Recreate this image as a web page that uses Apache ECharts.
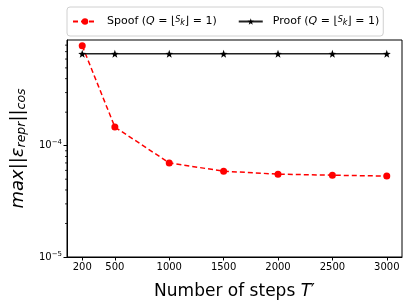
<!DOCTYPE html>
<html>
<head>
<meta charset="utf-8">
<script src="https://cdn.jsdelivr.net/npm/echarts@6/dist/echarts.min.js"></script>
<style>html,body{margin:0;padding:0;background:#fff;}#c{width:409px;height:308px;}</style>
</head>
<body>
<div id="c"></div>
<script>
const steps = [200, 500, 1000, 1500, 2000, 2500, 3000];
const spoofValues = [7.9e-4, 1.47e-4, 7.0e-5, 5.9e-5, 5.55e-5, 5.43e-5, 5.33e-5];
const proofValues = [6.68e-4, 6.68e-4, 6.68e-4, 6.68e-4, 6.68e-4, 6.68e-4, 6.68e-4];
const xTicks = [200, 500, 1000, 1500, 2000, 2500, 3000];
const yTicks = [1e-5, 1e-4];
const yMinorTicks = [2e-5, 3e-5, 4e-5, 5e-5, 6e-5, 7e-5, 8e-5, 9e-5, 2e-4, 3e-4, 4e-4, 5e-4, 6e-4, 7e-4, 8e-4];
const seriesNames = ['Spoof', 'Proof'];

const FONT = 'DejaVu Sans';
const STAR = 'path://M0,-10 L2.35,-3.24 L9.51,-3.09 L3.80,1.24 L5.88,8.09 L0,4 L-5.88,8.09 L-3.80,1.24 L-9.51,-3.09 L-2.35,-3.24 Z';
const xMin = 60, xMax = 3140;
const yMin = 1e-5, yMax = 8.9e-4;

const chart = echarts.init(document.getElementById('c'), null, {renderer: 'canvas'});
const LF = 11;
const legendRich = {
  t0: {fontFamily: FONT, fontSize: LF, color: '#000', padding: [0, 0, 0, 5]},
  t: {fontFamily: FONT, fontSize: LF, color: '#000'},
  it: {fontFamily: FONT, fontSize: LF, fontStyle: 'italic', color: '#000'},
  sup: {fontFamily: FONT, fontSize: 8, fontStyle: 'italic', color: '#000', verticalAlign: 'top'},
  sub: {fontFamily: FONT, fontSize: 8, fontStyle: 'italic', color: '#000', verticalAlign: 'bottom'}
};
chart.setOption({
  animation: false,
  backgroundColor: '#fff',
  grid: {left: 67, right: 7, top: 40, bottom: 51, show: true, borderColor: '#000', borderWidth: 1},
  legend: {
    left: 67, top: 7,
    padding: [9, 4, 9, 5],
    itemGap: 21,
    itemWidth: 24, itemHeight: 8,
    borderColor: '#d0d0d0', borderWidth: 1, borderRadius: 3,
    data: seriesNames,
    formatter: function (name) {
      return '{t0|' + name + ' (}{it|Q}{t| = ⌊}{sup|S}{sub|k}{t|⌋ = 1)}';
    },
    textStyle: {rich: legendRich, fontFamily: FONT, fontSize: LF, color: '#000'}
  },
  xAxis: {
    type: 'value', min: xMin, max: xMax,
    name: 'Number of steps {it|T}′',
    nameLocation: 'middle', nameGap: 26,
    nameTextStyle: {fontFamily: FONT, fontSize: 17, color: '#000',
      rich: {it: {fontFamily: FONT, fontSize: 17, fontStyle: 'italic', color: '#000'}}},
    axisLine: {lineStyle: {color: '#000', width: 1}},
    axisTick: {customValues: xTicks, length: 3.5, lineStyle: {color: '#000'}},
    axisLabel: {customValues: xTicks, fontFamily: FONT, fontSize: 10, color: '#000', margin: 5,
      formatter: function (v) { return String(v); }},
    splitLine: {show: false}
  },
  yAxis: {
    type: 'log', logBase: 10, min: yMin, max: yMax,
    name: '{i|max}{n|||}{i|ε}{s|repr}{n|||}{s|cos}',
    nameLocation: 'middle', nameGap: 38, nameRotate: 90,
    nameTextStyle: {fontFamily: FONT, fontSize: 18, color: '#000', rich: {
      i: {fontFamily: FONT, fontSize: 18, fontStyle: 'italic', color: '#000'},
      n: {fontFamily: FONT, fontSize: 18, color: '#000'},
      s: {fontFamily: FONT, fontSize: 12.5, fontStyle: 'italic', color: '#000', verticalAlign: 'bottom', padding: [6, 0, 0, 0]}
    }},
    axisLine: {show: true, lineStyle: {color: '#000', width: 1}},
    axisTick: {customValues: yTicks, length: 3.5, lineStyle: {color: '#000'}},
    axisLabel: {customValues: yTicks, margin: 5,
      formatter: function (v) { return '10{sup|−' + Math.round(-Math.log10(v)) + '}'; },
      fontFamily: FONT, fontSize: 10, color: '#000',
      rich: {sup: {fontFamily: FONT, fontSize: 7, color: '#000', verticalAlign: 'top', padding: [0, 0, 6, 0]}}},
    splitLine: {show: false}
  },
  series: [{
    name: seriesNames[0], type: 'line',
    data: steps.map((s, i) => [s, spoofValues[i]]),
    symbol: 'circle', symbolSize: 7,
    itemStyle: {color: '#ff0000'},
    lineStyle: {color: '#ff0000', width: 1.5, type: [5, 3]},
    z: 3
  }, {
    name: seriesNames[1], type: 'line',
    data: steps.map((s, i) => [s, proofValues[i]]),
    symbol: STAR, symbolSize: 8,
    itemStyle: {color: '#000'},
    lineStyle: {color: '#222', width: 1.5},
    z: 4
  }, {
    name: 'minorTicks', type: 'custom', silent: true, clip: false,
    data: yMinorTicks.map(v => [xMin, v]),
    renderItem: function (params, api) {
      const p = api.coord([api.value(0), api.value(1)]);
      return {type: 'line', shape: {x1: p[0] - 2, y1: p[1], x2: p[0], y2: p[1]},
        style: {stroke: '#000', lineWidth: 0.8}};
    },
    z: 5
  }]
});
</script>
</body>
</html>
